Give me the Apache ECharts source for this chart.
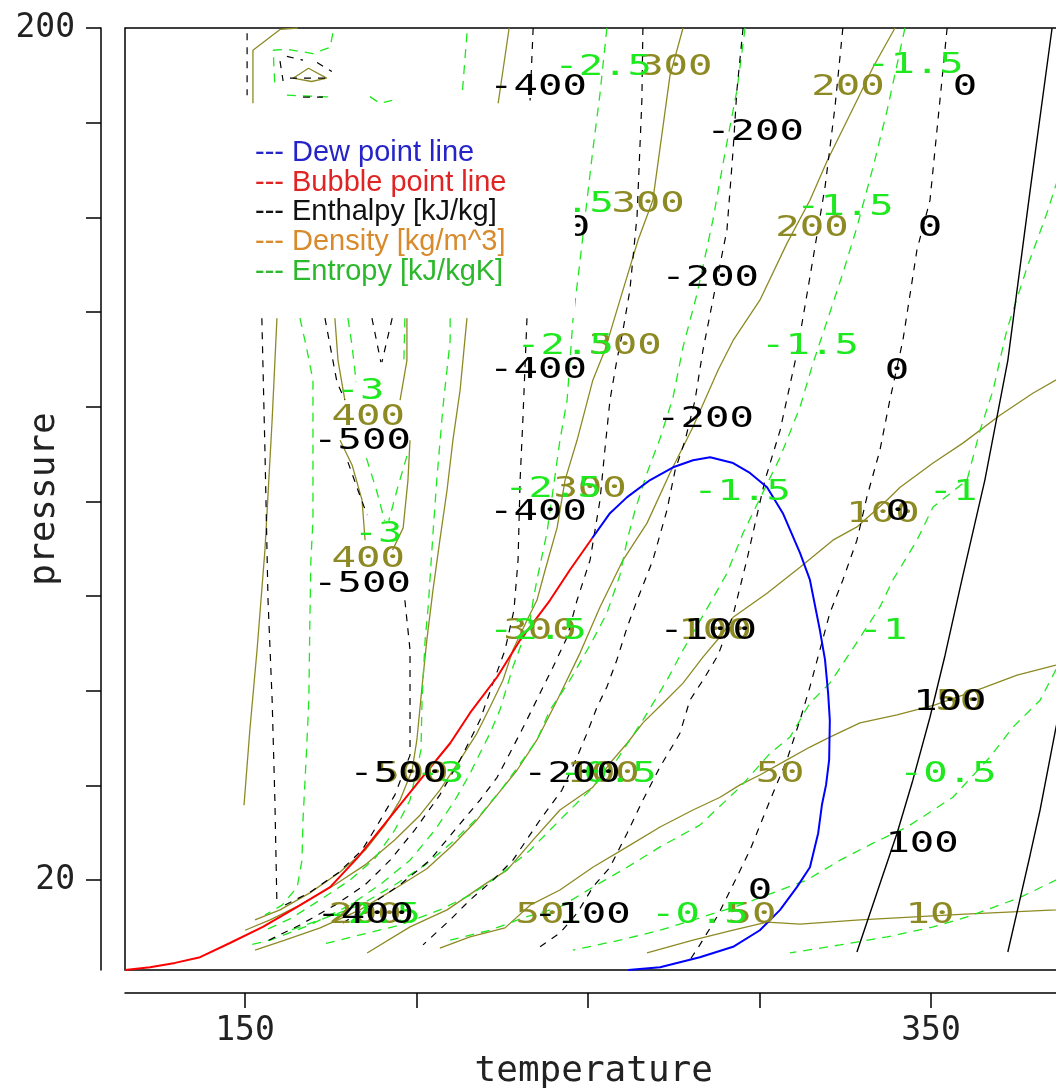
<!DOCTYPE html>
<html>
<head>
<meta charset="utf-8">
<script src="https://cdn.jsdelivr.net/npm/echarts@6/dist/echarts.min.js"></script>
<style>
  html, body { margin: 0; padding: 0; background: #fff; }
  #chart { width: 1056px; height: 1089px; }
</style>
</head>
<body>
<div id="chart"></div>
<script>
// Phase envelope (temperature, pressure)
const bubbleLine = [[115.0,1.0],[122.3,1.6],[129.6,2.5],[136.9,3.7],[145.6,6.7],[155.2,10.1],[165.1,14.3],[174.8,18.5],[182.9,24.8],[192.3,33.3],[201.0,41.1],[209.8,48.9],[215.6,55.3],[223.5,62.9],[230.2,70.7],[238.9,79.1],[244.7,85.5],[251.2,92.2]];
const dewLine = [[251.2,92.2],[256.4,97.5],[261.4,100.9],[268.1,104.5],[274.8,107.2],[280.6,108.7],[285.6,109.3],[292.3,108.1],[297.2,106.0],[302.2,103.0],[306.8,97.5],[311.8,89.1],[314.7,83.4],[317.6,72.8],[319.1,66.5],[320.0,59.5],[320.5,53.8],[320.3,45.4],[319.4,40.1],[318.2,35.9],[317.1,29.9],[314.7,22.7],[310.9,18.5],[306.0,13.7],[300.1,9.4],[292.3,5.9],[282.6,3.7],[271.0,1.6],[261.7,1.0]];

// Enthalpy contours, positive levels (solid)
const enthalpyPosLines = [
  [[385.3,200],[378.9,165.7],[372.4,129.8],[365.7,104.5],[359.0,83.4],[354.1,67.5],[349.7,54.4],[344.7,41.1],[340.1,29.9],[334.5,17.9],[328.4,4.8]],
  [[392.0,70.7],[386.4,52.1],[381.8,34.8],[378.9,25.3],[375.9,15.8],[372.4,4.8]]
];

// Enthalpy contours, zero and negative levels (dashed)
const enthalpyNegLines = [
  [[354.7,200],[352.6,184.7],[349.7,163.6],[345.9,153.1],[341.8,134.0],[338.0,121.4],[335.1,110.8],[331.3,100.9],[328.4,91.8],[324.3,83.4],[320.5,76.4],[314.7,60.8],[311.8,53.8],[308.0,45.4],[303.1,36.9],[297.2,26.3],[293.7,21.1],[287.9,12.6],[282.6,6.3],[279.7,3.1]],
  [[324.3,200],[322.0,183.3],[319.1,166.4],[314.7,147.4],[310.9,131.3],[306.0,115.0],[301.6,104.5],[296.3,87.6],[292.3,76.0],[287.9,67.5],[283.5,62.2],[279.7,58.0],[276.8,51.0],[271.0,43.9],[266.0,36.9],[261.4,29.9],[256.4,22.7],[251.4,18.5],[246.8,13.0],[241.8,8.8],[236.0,5.9]],
  [[295.2,200],[293.4,186.8],[292.3,174.2],[290.5,157.3],[286.4,142.5],[283.5,131.9],[281.2,121.4],[278.3,112.9],[275.4,106.6],[273.0,98.1],[268.9,87.6],[264.3,79.1],[261.4,73.4],[258.4,66.5],[255.5,60.8],[252.6,56.5],[249.7,51.0],[246.8,46.0],[242.4,39.0],[236.0,32.7],[228.1,24.2],[222.3,20.0],[215.6,15.8],[209.8,11.6],[201.9,6.3]],
  [[266.0,200],[265.7,184.7],[264.3,160.4],[262.2,144.6],[260.2,136.2],[258.4,129.8],[256.4,121.4],[254.9,110.8],[253.5,100.3],[250.6,87.6],[246.8,79.1],[243.9,71.3],[239.8,65.0],[236.9,60.8],[234.0,56.5],[230.2,51.0],[227.2,46.8],[223.5,41.7],[218.5,36.9],[211.2,30.6],[203.9,24.2],[195.2,19.0],[186.4,14.7],[177.7,10.5]],
  [[234.0,200],[233.1,184.7]],
  [[232.2,138.7],[231.0,117.2],[230.2,104.5],[229.6,87.6],[228.4,77.0],[225.8,68.6],[222.3,61.6],[218.5,53.8],[212.7,45.4],[206.8,38.0],[199.5,30.6],[192.3,24.2],[185.0,19.0],[176.2,14.7],[166.0,10.5],[155.8,6.9]],
  [[150.6,198.9],[150.6,185.8]],
  [[154.9,138.7],[155.8,110.8],[156.7,79.1],[157.9,58.0],[158.7,36.9],[159.3,14.7]],
  [[173.3,138.7],[174.8,132.9],[176.8,125.2],[179.1,121.4]],
  [[187.0,138.7],[189.6,129.4]],
  [[192.9,138.7],[189.9,129.4]],
  [[180.0,108.3],[182.9,102.4],[185.6,97.1]],
  [[196.6,79.1],[198.1,68.6],[198.1,58.0],[198.1,46.4],[193.7,38.0],[189.3,32.5],[184.1,26.3],[177.1,21.5],[168.9,17.4],[161.6,14.7]],
  [[160.2,193.0],[161.1,188.8]],
  [[162.2,194.0],[166.9,193.2]],
  [[171.0,192.7],[175.3,190.8]],
  [[163.1,189.4],[175.3,189.4]],
  [[166.9,185.4],[172.7,185.4]]
];

// Entropy contours (all negative levels, dashed)
const entropyLines = [
  [[255.5,200],[253.5,186.2],[251.4,174.2],[249.7,163.6],[247.7,151.0],[245.6,138.3],[243.9,121.4],[241.8,112.9],[239.8,102.4],[238.0,93.3],[235.1,83.4],[234.0,79.1],[233.1,74.9],[228.1,65.0],[224.3,55.9],[221.4,51.0],[218.5,46.8],[215.6,42.5],[211.2,36.9],[205.4,30.6],[198.1,24.2],[189.3,19.0],[180.6,14.7],[168.9,10.5],[157.3,7.3],[151.4,6.3]],
  [[295.8,200],[293.4,186.8],[289.9,173.5],[286.4,159.4],[281.8,143.9],[277.7,132.6],[274.8,122.0],[271.0,113.3],[267.2,106.0],[263.7,98.1],[261.4,91.8],[259.3,84.4],[255.5,76.4],[251.4,70.7],[244.7,62.2],[238.9,55.9],[235.1,49.6],[231.0,45.4],[225.2,39.6],[218.5,33.7],[211.2,28.5],[202.5,23.2],[193.7,19.0],[183.5,14.7],[171.9,11.6],[163.1,9.4]],
  [[342.4,200],[341.0,195.3],[337.2,182.6],[333.1,170.6],[328.4,157.9],[324.3,148.2],[318.5,135.5],[315.6,129.2],[311.8,119.9],[306.0,109.3],[301.0,101.9],[295.2,93.3],[290.5,84.8],[285.6,78.5],[277.7,68.6],[273.0,62.2],[266.0,53.8],[258.4,45.4],[250.6,39.0],[241.8,32.7],[233.1,26.3],[224.3,21.1],[215.6,16.8],[206.8,13.7],[195.2,10.5],[183.5,8.4],[171.9,6.3]],
  [[390.5,174.2],[386.4,166.8],[383.8,160.9],[378.0,149.4],[372.1,136.2],[368.1,123.5],[364.3,115.0],[360.5,104.5],[350.6,98.8],[345.9,91.8],[338.9,83.4],[335.1,77.7],[326.4,68.0],[320.5,61.6],[314.7,57.4],[308.9,50.2],[303.1,46.8],[294.3,39.6],[282.6,31.6],[271.0,27.0],[261.4,22.7],[251.4,18.5],[241.8,14.3],[231.8,12.2],[221.4,9.4],[209.8,7.3]],
  [[390.5,70.7],[386.4,64.4],[381.8,58.0],[373.9,52.3],[367.2,46.0],[356.4,37.5],[343.0,31.2],[333.1,27.8],[323.5,24.2],[313.8,20.0],[303.9,17.3],[294.3,14.7],[282.6,12.0],[271.0,9.4],[259.3,7.3],[245.6,5.2]],
  [[390.5,22.1],[386.4,20.0],[375.9,16.3],[360.5,12.2],[350.6,10.1],[337.2,8.0],[323.5,6.3],[308.9,4.6]],
  [[214.7,198.9],[213.3,185.8]],
  [[209.8,138.7],[209.8,134.0],[207.7,119.9],[205.9,104.5],[204.8,93.3],[203.4,77.7],[202.5,70.7],[201.6,58.0],[201.3,47.5],[198.1,36.9],[193.7,30.6],[187.9,24.6],[180.6,20.0],[171.9,15.8],[163.1,11.8],[155.8,9.4]],
  [[166.0,138.7],[167.8,132.9],[169.8,125.6],[169.8,110.8],[169.8,96.0],[169.2,87.6],[168.9,74.9],[168.6,58.0],[167.8,45.4],[166.9,32.7],[166.6,24.2],[165.2,18.5],[160.8,14.7],[155.8,12.6]],
  [[180.0,138.7],[181.2,132.9],[182.4,125.2]],
  [[196.6,138.7],[196.3,129.4]],
  [[185.4,109.1],[188.3,102.4],[190.7,95.9]],
  [[197.2,109.6],[194.3,102.4],[191.9,95.9]],
  [[175.6,198.9],[174.8,195.9],[169.8,194.6],[162.2,195.5],[158.2,195.3],[158.7,187.5]],
  [[162.2,185.8],[175.6,185.4]],
  [[186.4,185.5],[189.3,184.1],[192.9,184.7]]
];

// Density contours (solid)
const densityLines = [
  [[152.3,184.1],[152.3,195.3],[160.2,199.7],[165.4,200]],
  [[164.0,189.4],[168.5,191.5],[173.8,189.4],[169.4,188.7],[164.0,189.4]],
  [[159.3,138.7],[157.9,117.2],[155.8,89.7],[153.5,68.6],[151.4,51.7],[149.7,35.8]],
  [[176.2,138.7],[177.1,129.8],[179.1,121.4]],
  [[197.2,138.7],[197.2,129.8],[195.2,121.4]],
  [[177.7,112.9],[181.2,107.7],[184.1,100.3],[185.0,91.8]],
  [[198.1,112.9],[197.5,104.5],[196.1,94.4],[193.0,89.7]],
  [[227.0,200],[223.8,184.1]],
  [[214.7,138.7],[212.7,123.5],[210.6,112.9],[208.9,102.4],[206.8,91.8],[204.8,81.3],[203.0,70.7],[201.6,60.8],[200.1,49.6],[198.7,43.2],[195.2,36.9],[190.8,31.6],[185.0,26.3],[177.7,21.7],[168.9,17.3],[160.2,13.7],[152.9,11.6]],
  [[277.7,200],[273.9,190.0],[268.9,163.6],[264.6,155.2],[259.3,142.5],[254.9,131.9],[251.4,125.6],[246.8,112.9],[243.3,104.5],[241.0,94.5],[237.5,85.5],[235.1,79.1],[232.2,74.9],[228.1,68.6],[225.2,62.2],[221.4,56.5],[217.6,51.0],[212.7,45.4],[206.8,39.0],[201.0,33.7],[193.7,28.5],[185.0,23.2],[176.2,19.0],[166.0,14.7],[157.3,11.6],[150.0,9.4]],
  [[339.5,200],[333.1,191.7],[328.4,184.7],[319.7,171.9],[314.7,163.6],[308.0,154.5],[300.1,142.5],[292.3,134.0],[287.9,127.7],[280.6,115.7],[273.9,106.0],[267.2,95.4],[260.2,87.6],[253.5,77.7],[247.7,68.0],[241.0,58.0],[235.1,49.6],[229.3,43.2],[223.5,38.0],[217.6,32.7],[210.6,27.4],[203.0,22.4],[193.1,17.9],[183.5,13.7],[171.9,9.9],[161.6,7.3],[152.9,5.2]],
  [[392.0,127.7],[386.4,125.6],[379.8,122.9],[370.1,118.2],[359.3,112.3],[350.6,108.1],[341.0,103.0],[337.2,100.3],[328.4,94.6],[321.4,91.8],[311.8,86.1],[302.2,80.6],[292.3,75.5],[289.4,72.2],[283.5,67.1],[277.7,61.6],[271.9,57.4],[266.0,53.2],[261.4,48.9],[256.4,44.7],[251.4,39.6],[241.8,34.8],[234.0,28.5],[226.4,22.1],[220.5,19.4],[208.9,13.7],[198.1,10.1],[185.6,4.6]],
  [[392.0,66.5],[386.4,65.4],[375.1,63.3],[365.2,60.6],[351.2,57.0],[340.1,54.9],[329.3,53.2],[320.5,50.2],[314.7,48.1],[306.8,44.9],[300.1,42.2],[294.3,40.1],[288.5,37.5],[280.6,34.8],[271.0,31.2],[261.4,27.0],[251.4,22.7],[241.8,17.9],[233.1,14.7],[225.8,9.9],[215.6,8.0],[206.8,5.6]],
  [[392.0,14.1],[386.4,13.7],[359.9,12.8],[329.3,11.6],[311.8,10.7],[302.2,11.1],[292.3,9.4],[280.6,7.3],[267.2,4.6]]
];

// Contour level labels: [temperature, pressure, text]
const enthalpyLabels = [
  [235.4,187.3,'-400'],[298.7,177.8,'-200'],[359.9,187.3,'0'],[285.6,147.1,'-200'],[349.7,157.7,'0'],[247.1,157.7,'0'],
  [235.4,127.7,'-400'],[284.1,117.2,'-200'],[340.1,127.3,'0'],[184.1,112.5,'-500'],[235.4,97.5,'-400'],[285.0,72.4,'-100'],
  [184.1,82.3,'-500'],[355.5,57.4,'100'],[194.6,42.2,'-500'],[245.3,42.2,'-200'],[300.1,17.5,'0'],[347.4,27.4,'100'],
  [185.0,12.4,'-400'],[248.2,12.4,'-100'],[340.4,97.5,'0']
];
const densityLabels = [
  [275.6,191.7,'300'],[325.8,187.3,'200'],[267.5,162.6,'300'],[315.3,157.7,'200'],[260.8,132.6,'300'],[185.9,117.6,'400'],
  [250.6,102.4,'300'],[185.9,87.6,'400'],[236.0,72.4,'300'],[287.0,72.4,'100'],[336.0,97.1,'100'],[358.4,57.4,'50'],
  [198.7,42.2,'500'],[254.4,42.2,'100'],[306.0,42.2,'50'],[185.0,12.4,'200'],[236.0,12.4,'50'],[297.8,12.4,'50'],[349.7,12.4,'10']
];
const entropyLabels = [
  [254.4,191.7,'-2.5'],[345.3,192.1,'-1.5'],[243.3,162.6,'-2.5'],[324.9,162.1,'-1.5'],[243.3,132.6,'-2.5'],[314.7,132.6,'-1.5'],
  [183.5,123.1,'-3'],[239.8,102.4,'-2.5'],[294.9,101.9,'-1.5'],[356.4,101.9,'-1'],[188.8,92.9,'-3'],[235.4,72.4,'-2.5'],
  [336.0,72.4,'-1'],[206.8,42.2,'-3'],[255.8,42.2,'-0.5'],[354.9,42.2,'-0.5'],[187.0,12.4,'-2.5'],[282.6,12.4,'-0.5'],[241.2,12.4,'-1']
];

// Axis ticks
const pressureTicks = [20, 40, 60, 80, 100, 120, 140, 160, 180, 200];
const pressureTickLabels = [20, 200];
const temperatureTicks = [150, 200, 250, 300, 350, 400];
const temperatureTickLabels = [150, 350];

const BLACK = '#000000';
const OLIVE = '#8d8a24';
const GREEN = '#1ee81e';
const MONO = 'DejaVu Sans Mono';

function contour(data, color, dash, width, z) {
  return {
    type: 'line', data: data, showSymbol: false, symbol: 'none', silent: true,
    animation: false, clip: true, z: z,
    lineStyle: { color: color, width: width, type: dash }
  };
}

function levelLabels(list, color) {
  return {
    type: 'custom', coordinateSystem: 'cartesian2d', silent: true, animation: false, z: 6, clip: false,
    data: list.map(d => [d[0], d[1]]),
    encode: { x: 0, y: 1 },
    renderItem: function (params, api) {
      const pt = api.coord([api.value(0), api.value(1)]);
      return {
        type: 'text', x: pt[0], y: pt[1], scaleX: 1.45,
        style: {
          text: list[params.dataIndex][2], fill: color,
          fontFamily: MONO, fontSize: 28, align: 'center', verticalAlign: 'middle'
        }
      };
    }
  };
}

const series = [];
densityLines.forEach(l => series.push(contour(l, OLIVE, 'solid', 1.3, 2)));
entropyLines.forEach(l => series.push(contour(l, GREEN, [9, 7], 1.3, 3)));
enthalpyNegLines.forEach(l => series.push(contour(l, BLACK, [7, 7], 1.2, 3)));
enthalpyPosLines.forEach(l => series.push(contour(l, BLACK, 'solid', 1.4, 3)));
series.push(contour(bubbleLine, '#ff0000', 'solid', 2, 4));
series.push(contour(dewLine, '#0000ff', 'solid', 2, 4));
series.push(levelLabels(densityLabels, OLIVE));
series.push(levelLabels(entropyLabels, GREEN));
series.push(levelLabels(enthalpyLabels, BLACK));

const legendItems = [
  ['--- Dew point line', '#2424c8'],
  ['--- Bubble point line', '#e02424'],
  ['--- Enthalpy [kJ/kg]', '#111111'],
  ['--- Density [kg/m^3]', '#d88a2c'],
  ['--- Entropy [kJ/kgK]', '#2cb82c']
];
const graphic = [
  { type: 'rect', shape: { x: 240, y: 104, width: 335, height: 214 }, style: { fill: '#ffffff' }, z: 100, silent: true }
];
legendItems.forEach((it, i) => {
  graphic.push({
    type: 'text', x: 255, y: 153 + i * 29.7, z: 101, silent: true,
    style: { text: it[0], fill: it[1], fontFamily: 'Liberation Sans', fontSize: 29, verticalAlign: 'middle' }
  });
});

const chart = echarts.init(document.getElementById('chart'), null, { renderer: 'canvas' });
chart.setOption({
  animation: false,
  backgroundColor: '#ffffff',
  grid: {
    left: 125, top: 28, width: 977.5, height: 942, containLabel: false, outerBoundsMode: 'none',
    show: true, borderColor: '#000', borderWidth: 1.5, backgroundColor: 'transparent'
  },
  xAxis: {
    type: 'value', min: 115, max: 400, position: 'bottom', offset: 23,
    axisLine: { show: true, onZero: false, lineStyle: { color: '#000', width: 1.5 } },
    axisTick: { show: true, length: 15, customValues: temperatureTicks, lineStyle: { color: '#000', width: 1.5 } },
    axisLabel: { customValues: temperatureTickLabels, fontFamily: MONO, fontSize: 33, color: '#222', margin: 22 },
    splitLine: { show: false },
    name: 'temperature', nameLocation: 'middle', nameGap: 61, nameMoveOverlap: false,
    nameTextStyle: { fontFamily: MONO, fontSize: 36, color: '#222', padding: [0, 40, 0, 0] }
  },
  yAxis: {
    type: 'value', min: 1, max: 200, position: 'left', offset: 24,
    axisLine: { show: true, onZero: false, lineStyle: { color: '#000', width: 1.5 } },
    axisTick: { show: true, length: 15, customValues: pressureTicks, lineStyle: { color: '#000', width: 1.5 } },
    axisLabel: { customValues: pressureTickLabels, fontFamily: MONO, fontSize: 33, color: '#222', margin: 26 },
    splitLine: { show: false },
    name: 'pressure', nameLocation: 'middle', nameRotate: 90, nameGap: 38, nameMoveOverlap: false,
    nameTextStyle: { fontFamily: MONO, fontSize: 36, color: '#222' }
  },
  graphic: graphic,
  series: series
});
</script>
</body>
</html>
